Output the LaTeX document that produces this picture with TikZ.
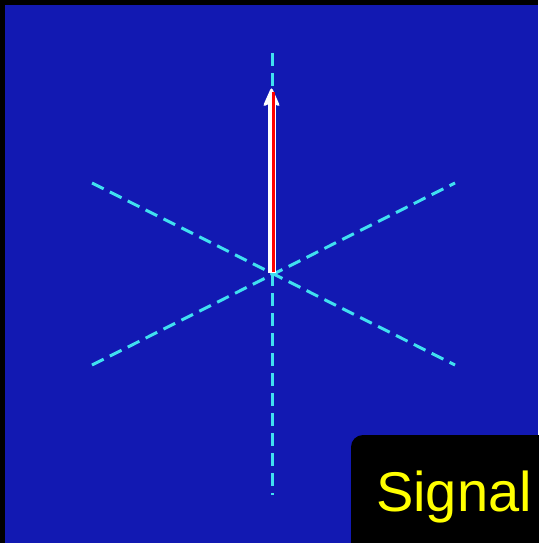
\documentclass[tikz,border=0pt]{standalone}
\usepackage{fontspec}
\setmainfont{Liberation Sans}
\definecolor{bgblue}{RGB}{18,25,178}
\definecolor{axcyan}{RGB}{64,224,240}
\definecolor{sigyellow}{RGB}{255,255,0}
\tikzset{
  axis/.style={draw=axcyan, line width=3pt, dash pattern=on 13pt off 7pt},
  vec/.style={draw=white, line width=8pt},
  vechead/.style={fill=white, draw=white, line width=1pt, rounded corners=2pt},
  vecin/.style={draw=red, line width=2.5pt},
}
\begin{document}
\begin{tikzpicture}[x=1pt,y=-1pt]
\useasboundingbox (0,0) rectangle (538,543);
\fill[black] (0,0) rectangle (538,543);
\fill[bgblue] (5,5) rectangle (538,543);
\coordinate (o) at (272,273);
\coordinate (top) at (272,53);
\coordinate (bot) at (272,495);
\coordinate (ul) at (92,183);
\coordinate (lr) at (455,365);
\coordinate (ll) at (92,365);
\coordinate (ur) at (455,183);
\draw[axis] (top) -- (bot);
\draw[axis] (ul) -- (lr);
\draw[axis] (ll) -- (ur);
\coordinate (o2) at (271.5,273);
\coordinate (neck) at (271.5,100);
\draw[vec] (o2) -- (neck);
\coordinate (tip) at (271.5,88);
\coordinate (hl) at (263.5,106);
\coordinate (hr) at (279.5,106);
\coordinate (hb) at (271.5,102);
\path[vechead] (tip) -- (hr) -- (hb) -- (hl) -- cycle;
\coordinate (rtop) at (273.5,92);
\coordinate (rbot) at (273.5,272);
\draw[vecin] (rbot) -- (rtop);
\fill[black, rounded corners=12pt] (351,435) rectangle (560,560);
\node[anchor=base west, inner sep=0pt, text=sigyellow, font=\fontsize{56}{60}\selectfont] (sig) at (376,511) {Signal};
\end{tikzpicture}
\end{document}
